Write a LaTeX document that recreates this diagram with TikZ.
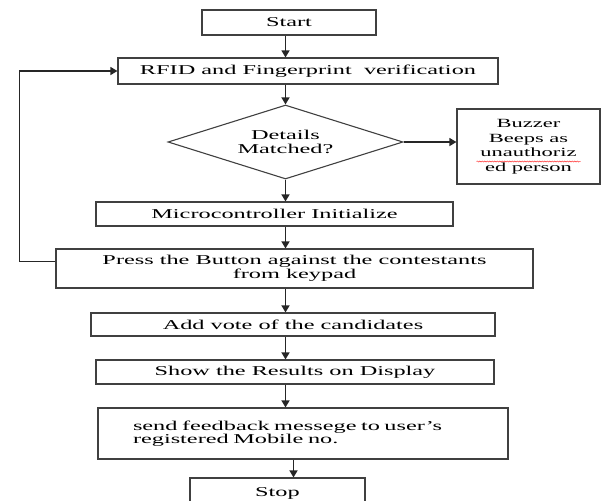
\documentclass[tikz,border=0pt]{standalone}
\usepackage{fontspec}
\setmainfont{Liberation Serif}[FakeStretch=1.8]
\usetikzlibrary{shapes.geometric,arrows.meta,decorations.pathmorphing}
\begin{document}
\begin{tikzpicture} [
        x=1pt, y=-1pt,
        box/.style={draw=black!75, line width=1.1pt, rectangle, inner sep=0pt, align=center},
        decision/.style={draw=black!75, line width=1.1pt, diamond, aspect=3, inner sep=0pt, align=center, minimum width=235pt, minimum height=74pt},
        arrow/.style={draw=black!85, line width=1.3pt, -{Triangle[length=7pt,width=8pt]}},
        font=\fontsize{13.5}{13.5}\selectfont ]
    \useasboundingbox (0,0) rectangle (606,501);
    \coordinate (spine) at (285.5,0);
    \node[box, minimum width=174pt, minimum height=25pt] (start) at (289,22.5) {Start};
    \node[box, minimum width=380pt, minimum height=26pt] (rfid) at (308,71) {RFID and Fingerprint\ \ verification};
    \node[decision] (match) at (285.5,142) {Details\\Matched?};
    \node[box, minimum width=143pt, minimum height=75pt, font=\fontsize{12.5}{14.5}\selectfont] (buzzer) at (528.5,146.5) {Buzzer\\Beeps as\\unauthoriz\\ed person};
    \node[box, minimum width=357pt, minimum height=24pt] (micro) at (274.5,214) {Microcontroller Initialize};
    \node[box, minimum width=477pt, minimum height=39pt] (press) at (294.5,268.5) {Press the Button against the contestants\\from keypad};
    \node[box, minimum width=404pt, minimum height=23pt] (vote) at (293,324.5) {Add vote of the candidates};
    \node[box, minimum width=398pt, minimum height=24pt] (show) at (295,372) {Show the Results\ on Display};
    \node[box, minimum width=410pt, minimum height=51pt, text width=340pt, align=left] (feed) at (303,433.5) {send feedback messege to user's\\registered Mobile no.};
    \node[box, minimum width=175pt, minimum height=30pt] (stop) at (277.5,493) {Stop};
    \draw[red!80, line width=0.5pt, decorate, decoration={snake, amplitude=0.6pt, segment length=2.5pt}]
        ([xshift=-52pt,yshift=-15pt]buzzer.center) -- ([xshift=52pt,yshift=-15pt]buzzer.center);

    \draw[arrow] (start.south -| spine) -- (rfid.north -| spine);
    \draw[arrow] (rfid.south -| spine) -- (match.north);
    \draw[arrow] (match.east) -- (buzzer.west |- match.east);
    \draw[arrow] (match.south) -- (micro.north -| spine);
    \draw[arrow] (micro.south -| spine) -- (press.north -| spine);
    \draw[arrow] (press.south -| spine) -- (vote.north -| spine);
    \draw[arrow] (vote.south -| spine) -- (show.north -| spine);
    \draw[arrow] (show.south -| spine) -- (feed.north -| spine);
    \draw[arrow] ([xshift=8pt]feed.south -| spine) -- ([xshift=8pt]stop.north -| spine);
    \draw[arrow] ([yshift=7pt]press.west) -- ++(-36,0) |- (rfid.west);
\end{tikzpicture}
\end{document}
